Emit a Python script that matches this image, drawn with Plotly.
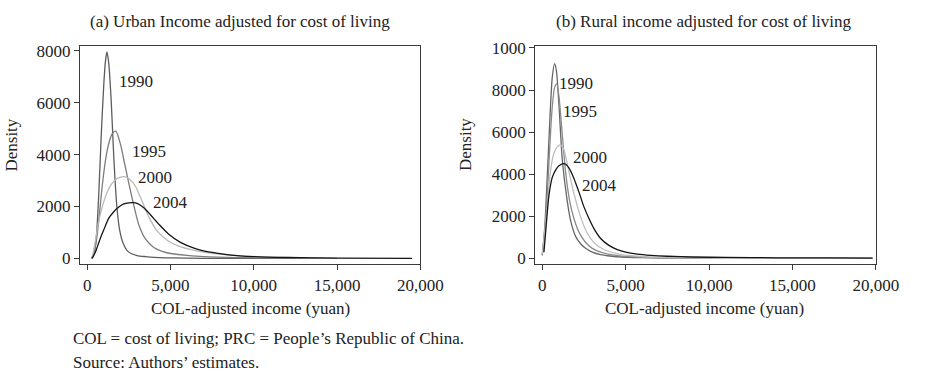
import plotly.graph_objects as go

# ---------------- data: estimated income density curves ----------------
years = ["1990", "1995", "2000", "2004"]

# (a) urban, COL-adjusted income (yuan) vs density
urban_1990_x = [250, 400, 550, 700, 850, 1000, 1100, 1190, 1300, 1450, 1600, 1780, 1950, 2150,
                2400, 2700, 3000, 3500, 4000, 5000, 7000, 10000, 14000]
urban_1990_y = [0, 150, 800, 2500, 4800, 6700, 7600, 7950, 7500, 6000, 3900, 2030, 1100, 600,
                300, 170, 110, 70, 40, 20, 5, 0, 0]

urban_1995_x = [300, 450, 600, 750, 900, 1050, 1200, 1350, 1500, 1720, 2000, 2200, 2500, 2800,
                3100, 3500, 4000, 4500, 5000, 6000, 7000, 9000, 12000, 15000]
urban_1995_y = [0, 300, 900, 1800, 2750, 3550, 4150, 4550, 4800, 4900, 4400, 3800, 2900, 2050,
                1300, 750, 420, 270, 190, 120, 70, 30, 10, 0]

urban_2000_x = [300, 450, 650, 850, 1100, 1400, 1700, 2000, 2250, 2550, 2900, 3300, 3700, 4200,
                4800, 5500, 6500, 7500, 8800, 10500, 13000, 15000]
urban_2000_y = [0, 500, 1280, 1850, 2380, 2800, 3030, 3130, 3150, 3050, 2780, 2200, 1600, 1060,
                700, 470, 300, 200, 120, 60, 20, 0]

urban_2004_x = [300, 500, 750, 1000, 1300, 1600, 1900, 2200, 2500, 2750, 3000, 3400, 3800, 4300,
                4900, 5600, 6500, 7500, 8500, 10000, 12000, 15000, 19500]
urban_2004_y = [0, 250, 700, 1100, 1550, 1800, 1980, 2100, 2140, 2150, 2120, 1950, 1680, 1320,
                930, 620, 380, 230, 140, 70, 35, 15, 5]

# (b) rural, COL-adjusted income (yuan) vs density
rural_1990_x = [0, 150, 300, 450, 600, 740, 850, 1000, 1200, 1450, 1700, 2000, 2300, 2600, 3000,
                3500, 4500, 6000, 9000, 14000, 19800]
rural_1990_y = [150, 1500, 3900, 6500, 8600, 9250, 8900, 7300, 4700, 3000, 1800, 1050, 700, 480,
                300, 180, 80, 35, 10, 3, 0]

rural_1995_x = [0, 150, 300, 450, 600, 750, 870, 1000, 1200, 1400, 1650, 1900, 2200, 2600, 3000,
                3500, 4500, 6000, 9000, 14000, 19800]
rural_1995_y = [150, 1200, 3000, 5300, 7200, 8150, 8290, 7700, 5900, 4100, 2700, 1900, 1250, 760,
                480, 300, 130, 50, 15, 5, 0]

rural_2000_x = [0, 150, 300, 500, 700, 900, 1100, 1300, 1500, 1800, 2100, 2400, 2700, 3000, 3400,
                4000, 4600, 5300, 6200, 7500, 9500, 13000, 19800]
rural_2000_y = [200, 1300, 2500, 4200, 5000, 5300, 5390, 5150, 4500, 3400, 2500, 1750, 1200, 850,
                560, 330, 210, 130, 80, 45, 20, 6, 0]

rural_2004_x = [100, 250, 400, 600, 800, 1000, 1330, 1600, 1900, 2200, 2500, 2800, 3100, 3500,
                4000, 4500, 5000, 5700, 6500, 7500, 9000, 11000, 14000, 17000, 19800]
rural_2004_y = [300, 1700, 3000, 3850, 4200, 4400, 4500, 4300, 3800, 3150, 2450, 1900, 1420, 950,
                620, 420, 300, 210, 150, 105, 70, 48, 32, 24, 20]

# curve label anchor points (data coordinates)
urban_label_x = [1800, 2580, 2930, 3850]
urban_label_y = [6800, 4100, 3115, 2140]
rural_label_x = [877, 1110, 1700, 2280]
rural_label_y = [8320, 6975, 4810, 3470]

x_ticks = [0, 5000, 10000, 15000, 20000]
x_tick_text = ["0", "5,000", "10,000", "15,000", "20,000"]
urban_y_ticks = [0, 2000, 4000, 6000, 8000]
urban_y_text = ["0", "2000", "4000", "6000", "8000"]
rural_y_ticks = [0, 2000, 4000, 6000, 8000, 10000]
rural_y_text = ["0", "2000", "4000", "6000", "8000", "1000"]

titles = ["(a) Urban Income adjusted for cost of living",
          "(b) Rural income adjusted for cost of living"]
x_title = "COL-adjusted income (yuan)"
y_title = "Density"
notes = ["COL = cost of living; PRC = People\u2019s Republic of China.",
         "Source: Authors\u2019 estimates."]

# ---------------- styling ----------------
W, H = 930, 376
FONT = "Liberation Serif"
TXT = "#222222"
FRAME = "#3a3a3a"
urban_colors = ["#5c5c5c", "#7c7c7c", "#b9b9b9", "#141414"]
rural_colors = ["#666666", "#8a8a8a", "#bdbdbd", "#141414"]

urban_series = [(urban_1990_x, urban_1990_y), (urban_1995_x, urban_1995_y),
                (urban_2000_x, urban_2000_y), (urban_2004_x, urban_2004_y)]
rural_series = [(rural_1990_x, rural_1990_y), (rural_1995_x, rural_1995_y),
                (rural_2000_x, rural_2000_y), (rural_2004_x, rural_2004_y)]

fig = go.Figure()
for (xs, ys), c in zip(urban_series, urban_colors):
    fig.add_trace(go.Scatter(x=xs, y=ys, mode="lines", xaxis="x", yaxis="y",
                             line=dict(color=c, width=1.3, shape="spline", smoothing=0.7),
                             showlegend=False, hoverinfo="skip"))
for (xs, ys), c in zip(rural_series, rural_colors):
    fig.add_trace(go.Scatter(x=xs, y=ys, mode="lines", xaxis="x2", yaxis="y2",
                             line=dict(color=c, width=1.3, shape="spline", smoothing=0.7),
                             showlegend=False, hoverinfo="skip"))


def px_x(p):
    return p / W


def px_y(p):
    return 1 - p / H


axis_common = dict(showline=True, mirror=True, linecolor=FRAME, linewidth=1.3,
                   ticks="outside", ticklen=5, tickwidth=1, tickcolor=FRAME,
                   showgrid=False, zeroline=False,
                   tickfont=dict(family=FONT, size=17, color=TXT))

y_dom = [px_y(265), px_y(40)]

fig.update_layout(
    width=W, height=H,
    margin=dict(l=0, r=0, t=0, b=0),
    paper_bgcolor="white", plot_bgcolor="white",
    xaxis=dict(domain=[px_x(82), px_x(431)], range=[-430, 20000], anchor="y",
               tickvals=x_ticks, ticktext=x_tick_text, **axis_common),
    yaxis=dict(domain=y_dom, range=[-224, 8187], anchor="x",
               tickvals=urban_y_ticks, ticktext=urban_y_text, **axis_common),
    xaxis2=dict(domain=[px_x(549), px_x(898)], range=[-410, 20000], anchor="y2",
                tickvals=x_ticks, ticktext=x_tick_text, **axis_common),
    yaxis2=dict(domain=y_dom, range=[-275, 10100], anchor="x2",
                tickvals=rural_y_ticks, ticktext=rural_y_text, **axis_common),
)

ann = []
label_font = dict(family=FONT, size=17, color=TXT)
for yr, lx, ly in zip(years, urban_label_x, urban_label_y):
    ann.append(dict(text=yr, x=lx, y=ly, xref="x", yref="y", xanchor="left",
                    yanchor="middle", showarrow=False, font=label_font))
for yr, lx, ly in zip(years, rural_label_x, rural_label_y):
    ann.append(dict(text=yr, x=lx, y=ly, xref="x2", yref="y2", xanchor="left",
                    yanchor="middle", showarrow=False, font=label_font))

# panel titles
for t, cx in zip(titles, [246, 722]):
    ann.append(dict(text=t, x=px_x(cx), y=px_y(15), xref="paper", yref="paper",
                    xanchor="center", yanchor="middle", showarrow=False, font=label_font))

# axis titles
for cx in [257, 722]:
    ann.append(dict(text=x_title, x=px_x(cx), y=px_y(311), xref="paper", yref="paper",
                    xanchor="center", yanchor="middle", showarrow=False, font=label_font))
for cx in [12, 478]:
    ann.append(dict(text=y_title, x=px_x(cx), y=px_y(142), xref="paper", yref="paper",
                    xanchor="center", yanchor="middle", showarrow=False, textangle=-90,
                    font=label_font))

# footnotes
for note, cy in zip(notes, [341, 366]):
    ann.append(dict(text=note, x=px_x(73), y=px_y(cy), xref="paper", yref="paper",
                    xanchor="left", yanchor="middle", showarrow=False, font=label_font))

fig.update_layout(annotations=ann)

fig.write_html("out.html")
